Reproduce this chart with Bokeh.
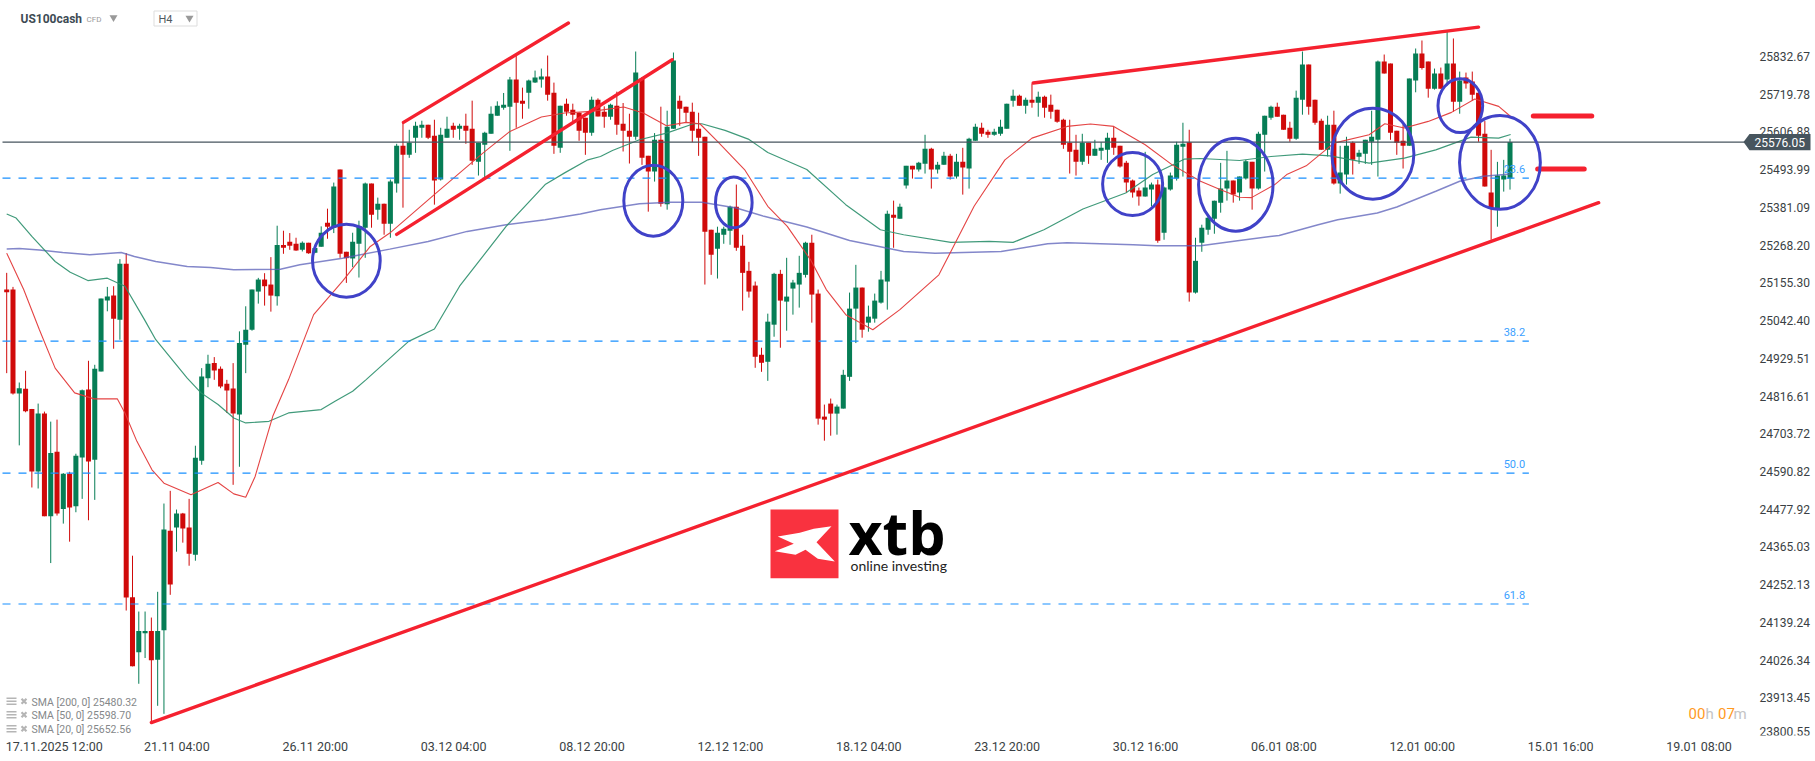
from bokeh.plotting import figure
from bokeh.models import Range1d, FixedTicker, LinearAxis
from bokeh.core.properties import value
from bokeh.embed import file_html
from bokeh.resources import INLINE

opens = [25135,25135,24824,24838,24778,24591,24764,24457,24650,24479,
24584,24487,24633,24836,24626,24890,25102,25117,25045,25212,
24215,24050,24107,24114,24028,24116,24414,24423,24465,24423,
24342,24623,24870,24915,24898,24853,24839,24761,24970,25015,
25129,25165,25150,25115,25268,25278,25272,25254,25275,25245,
25263,25335,25320,25494,25248,25228,25272,25320,25452,25374,
25392,25332,25452,25565,25538,25589,25619,25628,25595,25464,
25589,25625,25616,25625,25616,25517,25568,25601,25655,25679,
25682,25763,25700,25724,25754,25763,25772,25724,25559,25691,
25673,25664,25649,25604,25703,25667,25652,25685,25631,25610,
25592,25766,25535,25488,25583,25390,25616,25700,25682,25667,
25616,25592,25314,25257,25299,25311,25383,25266,25191,25147,
24940,24919,25030,25182,25099,25138,25150,25179,25275,25123,
24755,24794,24764,24779,24874,25078,25141,25036,25048,25096,
25159,25359,25347,25446,25505,25494,25511,25556,25494,25508,
25535,25473,25517,25497,25580,25619,25607,25598,25601,25616,
25700,25715,25685,25703,25694,25712,25688,25673,25643,25574,
25553,25517,25574,25535,25550,25553,25589,25565,25514,25461,
25431,25413,25434,25449,25305,25434,25467,25562,25576,25126,
25275,25314,25347,25395,25437,25461,25425,25467,25517,25437,
25598,25649,25682,25658,25619,25586,25703,25808,25703,25640,
25553,25628,25452,25479,25574,25532,25541,25577,25583,25817,
25811,25610,25580,25565,25760,25841,25817,25736,25781,25763,
25811,25697,25769,25757,25724,25601,25425,25377,25464,25467]

closes = [25127,24824,24840,24771,24591,24764,24457,24646,24465,24584,
24483,24638,24834,24621,24898,25108,25114,25048,25212,24214,
24008,24114,24114,24026,24114,24417,24253,24465,24420,24345,
24632,24875,24913,24893,24845,24833,24764,24975,25015,25135,
25165,25145,25117,25268,25260,25266,25252,25275,25244,25259,
25305,25323,25443,25242,25229,25278,25324,25452,25359,25392,
25332,25458,25565,25538,25574,25625,25628,25589,25461,25598,
25616,25613,25625,25610,25520,25574,25604,25661,25685,25688,
25763,25694,25691,25760,25769,25772,25718,25565,25685,25667,
25658,25610,25604,25703,25653,25652,25688,25628,25610,25592,
25784,25529,25488,25583,25392,25622,25820,25676,25664,25610,
25589,25308,25239,25305,25317,25383,25260,25185,25129,24934,
24916,25039,25182,25102,25114,25156,25185,25275,25120,24749,
24746,24764,24785,24880,25078,25141,25015,25054,25102,25165,
25362,25350,25383,25505,25494,25514,25556,25494,25508,25535,
25473,25517,25500,25586,25622,25601,25598,25607,25622,25691,
25715,25685,25703,25694,25712,25679,25667,25637,25568,25547,
25517,25574,25535,25556,25559,25589,25559,25503,25455,25425,
25413,25440,25449,25281,25440,25476,25568,25571,25126,25221,
25320,25350,25401,25437,25461,25419,25473,25519,25437,25601,
25655,25682,25652,25613,25586,25709,25808,25682,25634,25553,
25628,25452,25485,25565,25523,25544,25583,25592,25817,25781,
25604,25574,25565,25766,25841,25798,25736,25781,25736,25811,
25697,25760,25751,25718,25595,25443,25377,25476,25476,25576.05]

highs = [25185,25143,24857,24892,24778,24794,24770,24740,24746,24586,
24590,24644,24836,24922,24910,25108,25143,25145,25226,25244,
24339,24172,24172,24154,24231,24495,24533,24477,24467,24509,
24668,24900,24940,24933,24905,24865,24915,25010,25085,25135,
25170,25184,25232,25326,25311,25304,25290,25279,25275,25264,
25324,25377,25455,25494,25248,25305,25341,25455,25452,25410,
25392,25464,25571,25637,25613,25637,25640,25628,25643,25619,
25652,25634,25631,25661,25700,25574,25607,25683,25698,25723,
25771,25838,25739,25763,25790,25796,25835,25754,25685,25706,
25691,25665,25649,25712,25707,25683,25691,25727,25693,25661,
25847,25771,25535,25603,25682,25670,25844,25715,25682,25694,
25664,25592,25314,25323,25323,25386,25449,25299,25218,25159,
24961,25063,25185,25194,25230,25164,25236,25278,25299,25135,
24791,24809,24791,24895,25126,25209,25141,25087,25123,25191,
25371,25401,25392,25505,25505,25517,25598,25559,25517,25547,
25541,25541,25559,25589,25631,25634,25613,25616,25643,25691,
25733,25718,25709,25751,25727,25715,25718,25673,25646,25643,
25598,25601,25574,25583,25576,25604,25622,25565,25520,25464,
25440,25547,25455,25464,25443,25485,25577,25634,25613,25290,
25329,25359,25401,25514,25550,25461,25473,25523,25517,25607,
25655,25685,25694,25658,25637,25730,25847,25808,25703,25646,
25655,25670,25565,25592,25578,25553,25583,25670,25820,25838,
25811,25610,25628,25766,25856,25880,25817,25796,25799,25907,
25886,25787,25784,25787,25724,25639,25553,25517,25523,25586]

lows = [24885,24821,24669,24768,24543,24540,24457,24317,24459,24435,
24381,24469,24509,24445,24506,24890,25070,24958,24985,24175,
24008,23956,24033,23840,23890,23866,24222,24351,24378,24309,
24324,24611,24843,24865,24840,24766,24551,24605,24885,25012,
25093,25087,25069,25087,25242,25254,25251,25249,25242,25244,
25263,25287,25304,25230,25155,25202,25171,25230,25320,25344,
25299,25290,25425,25380,25529,25544,25589,25585,25389,25461,
25589,25589,25583,25571,25508,25476,25467,25601,25655,25673,
25550,25619,25646,25676,25753,25739,25700,25541,25544,25655,
25631,25580,25538,25595,25653,25619,25643,25598,25548,25512,
25583,25508,25368,25458,25383,25374,25616,25625,25634,25576,
25535,25150,25179,25168,25272,25269,25251,25072,25111,24901,
24889,24862,24994,24961,25012,25060,25081,25171,25036,24731,
24683,24698,24701,24779,24862,24975,24991,25009,25036,25093,
25075,25260,25347,25437,25467,25488,25482,25437,25482,25508,
25464,25467,25419,25437,25580,25592,25589,25595,25595,25616,
25682,25685,25661,25679,25652,25649,25646,25634,25556,25482,
25476,25508,25511,25535,25523,25514,25538,25500,25425,25410,
25386,25413,25384,25275,25284,25431,25461,25473,25099,25123,
25248,25299,25302,25365,25401,25395,25401,25464,25374,25434,
25488,25643,25652,25613,25577,25583,25658,25658,25628,25553,
25533,25449,25422,25449,25479,25511,25511,25508,25473,25781,
25583,25538,25497,25565,25725,25793,25709,25733,25736,25745,
25667,25661,25736,25700,25577,25443,25284,25323,25428,25434]

sma200_idx = [0,2,5.2,8.9,13.2,18.2,20.3,23.7,28.7,32.4,36.1,43.5,46.6,53.4,60.9,67,73.2,79.4,85.6,91.2,
94.4,100.6,105.5,110.5,116,120.4,127.2,134,142.6,147.6,158.1,165.5,168.6,179.1,182.8,
189.8,196,202.3,208.5,211.6,217.9,221,227.2,231,234.7,239.1]
sma200_val = [25256,25258,25253,25246,25239,25246,25234,25219,25204,25201,25194,25196,25209,25229,25256,25279,25309,25329,25344,25361,
25374,25392,25396,25396,25379,25354,25322,25282,25249,25244,25249,25272,25275,25269,25266,
25266,25282,25297,25329,25344,25364,25382,25429,25459,25474,25480.32]

sma50_idx = [0,1.5,4,7.7,10.1,12.9,16,18.8,21.9,23.7,28.7,30.9,33.6,36.1,38,41.7,44.8,50,52.2,55,57.1,63.9,68,72,79.4,85.6,88.7,92.4,
94.4,96.3,100.6,104.9,109.2,110.5,114.2,117.9,121,127.2,133.4,138.9,142.6,150.1,156.2,160,164.9,171.1,177.9,182.2,187.2,
189.8,196,201,206,210.4,216.6,222.2,227.2,232.8,237.2,239.1]
sma50_val = [25361,25349,25294,25219,25187,25162,25169,25145,25045,24985,24870,24826,24791,24751,24736,24741,24766,24776,24801,24831,24865,24980,25017,25145,25324,25449,25484,25523,
25533,25551,25583,25603,25631,25631,25611,25585,25545,25494,25389,25314,25299,25276,25279,25276,25314,25376,25424,25479,25525,
25527,25521,25533,25540,25535,25513,25528,25553,25591,25588,25598.70]

sma20_idx = [0,2.7,5.2,7.7,10.8,13.9,17.6,18.8,20.7,23.1,25,29.3,33.6,36.1,38,39.5,42.3,44.8,48.8,53.4,57.8,60.9,68.3,75.7,80,85,88.7,93,
98.1,101.2,104.9,108,110.2,113,117.3,121,124.1,127.8,130.3,133.4,137.7,142,148.2,153.8,158.7,163,168.6,172.3,176,181,185.3,
189.8,192.9,196,197.9,201.6,203.5,206.6,211,216.6,219.1,222.2,226,229.7,233.4,237.2,239.1]
sma20_val = [25244,25135,25015,24900,24826,24808,24808,24766,24681,24596,24556,24521,24558,24524,24514,24576,24756,24865,25060,25160,25264,25304,25424,25543,25608,25651,25663,25668,
25681,25663,25625,25635,25631,25578,25494,25384,25324,25224,25135,25060,25015,25075,25179,25384,25523,25588,25623,25630,25623,25568,25508,
25459,25434,25411,25410,25449,25479,25505,25573,25598,25631,25618,25638,25665,25705,25683,25652.56]

fib_levels = [25468.6, 24981, 24586, 24194.5]
fib_names = ["23.6", "38.2", "50.0", "61.8"]
current_price = 25576.05

y_tick_labels = ["25832.67","25719.78","25606.88","25493.99","25381.09","25268.20","25155.30","25042.40","24929.51",
                 "24816.61","24703.72","24590.82","24477.92","24365.03","24252.13","24139.24","24026.34","23913.45","23800.55"]
y_tick_pos = [25832.67,25719.78,25606.88,25493.99,25381.09,25268.20,25155.30,25042.40,24929.51,
              24816.61,24703.72,24590.82,24477.92,24365.03,24252.13,24139.24,24026.34,23913.45,23813.5]
x_tick_labels = ["17.11.2025  12:00","21.11  04:00","26.11  20:00","03.12  04:00","08.12  20:00","12.12  12:00","18.12  04:00",
                 "23.12  20:00","30.12  16:00","06.01  08:00","12.01  00:00","15.01  16:00","19.01  08:00"]
x_tick_pos = [7.8,27.3,49.3,71.3,93.3,115.3,137.3,159.3,181.3,203.3,225.3,247.3,269.3]

# trend lines (bar, price)
trend_x0 = [23, 63.08, 62, 163.2, 242.7, 243.4]
trend_y0 = [23840, 25635, 25300, 25752.8, 25654, 25495.6]
trend_x1 = [253.1, 89.3, 105.8, 234, 252, 250.8]
trend_y1 = [25394.8, 25932.3, 25822.5, 25920, 25654, 25495.6]
trend_w = [3.4, 3.4, 3.4, 3.4, 5, 5]

circle_x = [54.0, 102.8, 115.6, 179, 195.4, 217.2, 231.1, 237.4]
circle_y = [25221.4, 25400.8, 25395.7, 25450.8, 25448.7, 25541.4, 25685, 25515.4]
circle_w = [10.76, 9.38, 5.82, 9.54, 11.84, 13.04, 7.1, 12.85]
circle_h = [218, 212, 152, 188, 278, 272, 161.5, 281]

legend_texts = ["SMA  [200,  0]  25480.32", "SMA  [50,  0]  25598.70", "SMA  [20,  0]  25652.56"]

# page pixel -> data, for the page furniture only (header, logo, legend)
def rx(px):
    return (px - 6.2) / 6.29
def ry(py):
    return 26002 - 2.991 * (py + 0.8)

RED = "#d00a0a"
GREEN = "#067d55"
n = len(opens)
idx = list(range(n))
colors = [GREEN if c >= o else RED for o, c in zip(opens, closes)]
tops = [max(o, c) for o, c in zip(opens, closes)]
bots = [min(o, c) for o, c in zip(opens, closes)]

p = figure(width=1815, height=761, output_backend="svg", toolbar_location=None,
           x_range=Range1d(rx(0), rx(1815)), y_range=Range1d(ry(735), ry(0)),
           y_axis_location=None, min_border_left=0, min_border_top=0,
           min_border_right=0, min_border_bottom=26, background_fill_color="white",
           border_fill_color="white", outline_line_color=None)
p.grid.visible = False

ax = LinearAxis(fixed_location=rx(1750))
ax.ticker = FixedTicker(ticks=y_tick_pos)
ax.major_label_overrides = dict(zip(y_tick_pos, y_tick_labels))
ax.axis_line_color = None
ax.major_tick_line_color = None
ax.minor_tick_line_color = None
ax.major_tick_out = 0
ax.major_tick_in = 0
ax.major_label_standoff = 9
ax.major_label_text_font = "Roboto"
ax.major_label_text_font_size = "12px"
ax.major_label_text_color = "#3a3f44"
p.add_layout(ax, "right")

xa = p.xaxis[0]
xa.ticker = FixedTicker(ticks=x_tick_pos)
xa.major_label_overrides = dict(zip(x_tick_pos, x_tick_labels))
xa.axis_line_color = None
xa.major_tick_line_color = None
xa.minor_tick_line_color = None
xa.major_tick_out = 0
xa.major_tick_in = 0
xa.major_label_standoff = 3
xa.major_label_text_font = "Roboto"
xa.major_label_text_font_size = "12.5px"
xa.major_label_text_color = "#3a3f44"

# candles
p.segment(idx, lows, idx, highs, color=colors, line_width=1)
p.vbar(idx, width=0.8, bottom=bots, top=tops, fill_color=colors, line_color=None)

# moving averages
p.line(sma200_idx, sma200_val, line_color="#5a5fb8", line_width=1.5, line_alpha=0.75)
p.line(sma50_idx, sma50_val, line_color="#2b8f6c", line_width=1.2, line_alpha=0.9)
p.line(sma20_idx, sma20_val, line_color="#e33a3a", line_width=1.1, line_alpha=0.95)

# fibonacci levels
p.segment([rx(2)] * 4, fib_levels, [242] * 4, fib_levels, line_color="#1890ff", line_width=1.2, line_dash="8 8")
p.text([239.7] * 4, [v + 27 for v in fib_levels], text=fib_names, text_font=value("Roboto"),
       text_font_size="11px", text_color="#3aa0ff", text_align="center", text_baseline="middle")

# last price line and flag
p.segment([rx(2)], [current_price], [rx(1750)], [current_price], line_color="#47555e", line_width=1.3)
p.patch([rx(1743), rx(1749), rx(1810), rx(1810), rx(1749)],
        [current_price, current_price + 24, current_price + 24, current_price - 24, current_price - 24],
        fill_color="#47555e", line_color=None, level="overlay")
p.text([rx(1754)], [current_price], text=["25576.05"], text_color="white", text_font=value("Roboto"),
       text_font_size="12px", text_baseline="middle", level="overlay")

# drawn objects
p.segment(trend_x0, trend_y0, trend_x1, trend_y1, line_color="#f5212f", line_width=trend_w, line_cap="round")
p.ellipse(circle_x, circle_y, width=circle_w, height=circle_h, fill_color=None, line_color="#4042c8", line_width=3)

# header
p.text([rx(20)], [ry(18)], text=["US100cash"], text_font=value("Roboto"), text_font_style="bold",
       text_font_size="12px", text_color="#3d4b54", text_baseline="middle")
p.text([rx(86)], [ry(19)], text=["CFD"], text_font=value("Roboto"), text_font_size="8px",
       text_color="#9a9a9a", text_baseline="middle")
p.scatter([rx(113), rx(189)], [ry(17), ry(17.5)], marker="inverted_triangle", size=8,
          fill_color="#999999", line_color=None)
p.quad(left=[rx(153.5)], right=[rx(196.5)], bottom=[ry(25.5)], top=[ry(10.5)], fill_color=None, line_color="#dddddd", line_width=1)
p.text([rx(158)], [ry(19)], text=["H4"], text_font=value("Roboto"), text_font_size="11px",
       text_color="#50595f", text_baseline="middle")

# indicator legend
for i, t in enumerate(legend_texts):
    yy = [701.7, 715.3, 729.3][i]
    p.text([rx(31)], [ry(yy)], text=[t], text_font=value("Roboto"), text_font_size="10.5px",
           text_color="#85888a", text_baseline="middle")
    for dy in (-3, 0, 3):
        p.segment([rx(6)], [ry(yy - 1 + dy)], [rx(16)], [ry(yy - 1 + dy)], line_color="#b5b5b5", line_width=1.6)
    p.scatter([rx(23.5)], [ry(yy - 1)], marker="x", size=7, line_color="#b5b5b5", line_width=2.2)

# countdown
for px_, s, c in [(1688, "00", "#ff9a1f"), (1705, "h", "#c4c4c4"), (1717.6, "07", "#ff9a1f"), (1733, "m", "#c4c4c4")]:
    p.text([rx(px_)], [ry(713)], text=[s], text_font=value("Roboto"), text_font_size="15px",
           text_color=c, text_baseline="middle")

# logo
p.quad(left=[rx(770)], right=[rx(838)], bottom=[ry(577.7)], top=[ry(509)], fill_color="#f9323f", line_color=None)
logo_px = [777.3, 799.3, 813.3, 831, 816, 834.3, 817.3, 805, 795, 774.3, 793.3]
logo_py = [536, 532.3, 528.3, 525.7, 541.7, 561, 558.3, 549.3, 554.3, 550.7, 543.3]
p.patch([rx(v) for v in logo_px], [ry(v) for v in logo_py], fill_color="white", line_color=None)
p.text([rx(848)], [ry(531)], text=["xtb"], text_font=value("Open Sans"), text_font_style="bold",
       text_font_size="59px", text_color="#000000", text_baseline="alphabetic")
p.text([rx(850)], [ry(565)], text=["online investing"], text_font=value("Lato"), text_font_size="14px",
       text_color="#222222", text_baseline="middle")

open("out.html", "w").write(file_html(p, INLINE))
